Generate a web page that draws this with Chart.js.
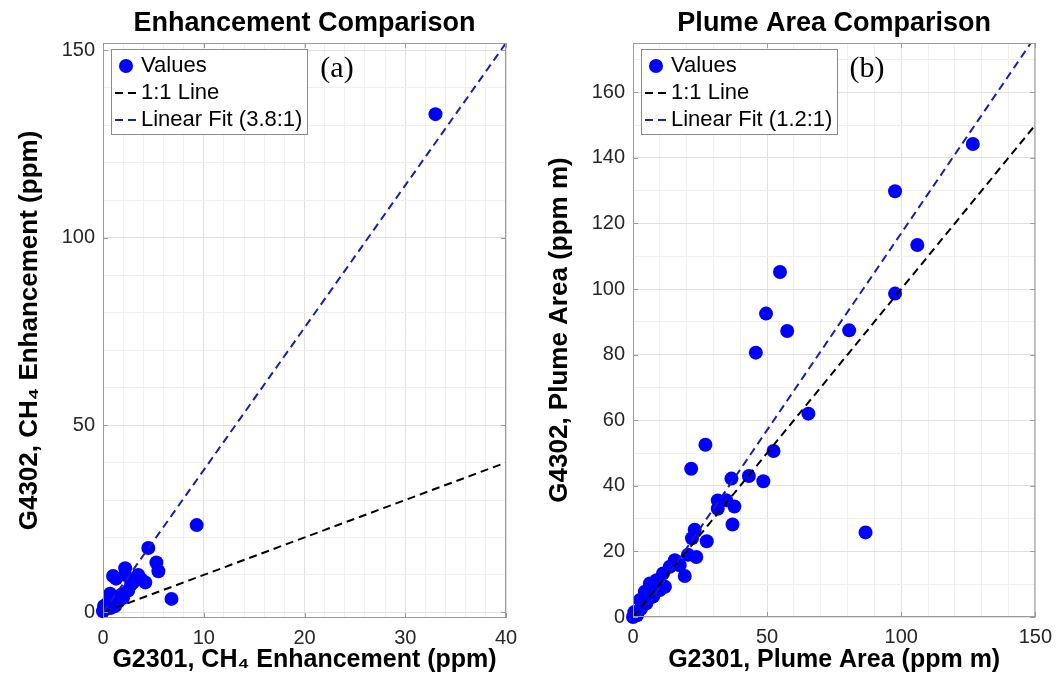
<!DOCTYPE html>
<html>
<head>
<meta charset="utf-8">
<script src="https://cdn.jsdelivr.net/npm/chart.js@4.4.1/dist/chart.umd.min.js"></script>
<style>
  html, body { margin: 0; padding: 0; background: #fff; overflow: hidden; }
  #wrap { position: relative; width: 1060px; height: 691px; }
  canvas { position: absolute; top: 0; }
  #chart-enh { left: 0; }
  #chart-area { left: 530px; }
</style>
</head>
<body>
<div id="wrap">
  <canvas id="chart-enh" width="530" height="691"></canvas>
  <canvas id="chart-area" width="530" height="691"></canvas>
</div>
<script>
// (a) CH4 enhancement, G2301 vs G4302 (ppm)
const enhX = [0.0, 0.2, 0.1, 0.5, 0.8, 1.2, 0.7, 0.9, 1.5, 2.0, 1.85, 2.5, 1.0, 1.3, 2.2, 2.2, 2.8, 3.0, 3.5, 3.8, 4.2, 4.5, 5.3, 5.5, 6.8, 9.3, 33.0];
const enhY = [0.3, 0.8, 1.7, 2.6, 1.2, 1.7, 5.0, 3.5, 2.8, 3.9, 4.8, 5.8, 9.7, 9.0, 11.8, 10.0, 7.5, 8.0, 10.0, 8.8, 8.0, 17.2, 13.3, 11.0, 3.6, 23.3, 133.0];
const enhOneToOne = [[0, 0], [40, 40]];
const enhFit = [[0, 0], [40, 152]];

// (b) plume area, G2301 vs G4302 (ppm m)
const areaX = [0, 0.5, 1.5, 2.6, 3, 4.4, 5, 6.3, 7.5, 8.8, 10, 11.2, 11.9, 13.7, 15.6, 17.4, 19.3, 20.5, 23.6, 22, 23, 27.5, 21.7, 27, 31.6, 31.6, 34.7, 37.8, 37.1, 36.7, 43.2, 48.6, 52.4, 45.8, 49.6, 54.8, 57.5, 65.4, 80.6, 86.7, 97.7, 97.7, 106, 126.7];
const areaY = [0, 1.5, 0.5, 5.2, 2.5, 7.7, 4.2, 10.2, 6.2, 11.2, 8.2, 13.3, 9.2, 15.3, 17.3, 15.8, 12.5, 19, 18.3, 24, 26.6, 23.1, 45.2, 52.5, 33, 35.5, 35.6, 33.7, 28.2, 42.2, 43, 41.4, 50.6, 80.6, 92.5, 105.2, 87.2, 62, 87.4, 25.8, 98.6, 129.8, 113.4, 144.2];
const areaOneToOne = [[0, 0], [150, 150]];
const areaFit = [[0, -3], [150, 177]];

const enhXTicks = [0, 10, 20, 30, 40];
const enhYTicks = [0, 50, 100, 150];
const areaXTicks = [0, 50, 100, 150];
const areaYTicks = [0, 20, 40, 60, 80, 100, 120, 140, 160];

const legendEnh = ['Values', '1:1 Line', 'Linear Fit (3.8:1)'];
const legendArea = ['Values', '1:1 Line', 'Linear Fit (1.2:1)'];

const FONT = "'Liberation Sans', Arial, Helvetica, sans-serif";
const SERIF = "'Liberation Serif', 'Times New Roman', serif";
const BLUE = '#0000ff';
const FIT_BLUE = '#1c1cb0';

function steps(min, max, step) {
  const out = [];
  for (let v = min; v <= max + 1e-9; v += step) out.push(Math.round(v * 100) / 100);
  return out;
}

const toPts = (xs, ys) => xs.map((x, i) => ({ x, y: ys[i] }));
const pairPts = (pairs) => pairs.map(([x, y]) => ({ x, y }));

// frame, inward ticks, legend box, title and panel tag
const framePlugin = {
  id: 'frame',
  afterDraw(chart, args, o) {
    const { ctx, chartArea: a, scales } = chart;
    ctx.save();
    ctx.strokeStyle = '#9a9a9a';
    ctx.lineWidth = 1;
    ctx.strokeRect(a.left + 0.5, a.top + 0.5, a.width - 1, a.height - 1);
    ctx.beginPath();
    o.xMajor.forEach((v) => {
      const x = Math.round(scales.x.getPixelForValue(v)) + 0.5;
      ctx.moveTo(x, a.bottom); ctx.lineTo(x, a.bottom - 5);
      ctx.moveTo(x, a.top); ctx.lineTo(x, a.top + 5);
    });
    o.yMajor.forEach((v) => {
      const y = Math.round(scales.y.getPixelForValue(v)) + 0.5;
      ctx.moveTo(a.left, y); ctx.lineTo(a.left + 5, y);
      ctx.moveTo(a.right, y); ctx.lineTo(a.right - 5, y);
    });
    ctx.stroke();

    // title
    ctx.fillStyle = '#000';
    ctx.font = `bold 27px ${FONT}`;
    ctx.textAlign = 'center';
    ctx.textBaseline = 'middle';
    ctx.fillText(o.title, (a.left + a.right) / 2, 24);

    // legend
    const L = a.left + 8, T = a.top + 6, W = 196, H = 85;
    ctx.fillStyle = '#fff';
    ctx.fillRect(L, T, W, H);
    ctx.strokeStyle = '#8a8a8a';
    ctx.strokeRect(L + 0.5, T + 0.5, W, H);
    const rows = [T + 17, T + 44, T + 71];
    ctx.fillStyle = BLUE;
    ctx.beginPath();
    ctx.arc(L + 15, rows[0], 7, 0, Math.PI * 2);
    ctx.fill();
    ctx.lineWidth = 2;
    ctx.setLineDash([8, 5]);
    [['#000', rows[1]], [FIT_BLUE, rows[2]]].forEach(([c, y]) => {
      ctx.strokeStyle = c;
      ctx.beginPath();
      ctx.moveTo(L + 4, y); ctx.lineTo(L + 26, y);
      ctx.stroke();
    });
    ctx.setLineDash([]);
    ctx.fillStyle = '#000';
    ctx.font = `22px ${FONT}`;
    ctx.textAlign = 'left';
    o.legend.forEach((t, i) => ctx.fillText(t, L + 30, rows[i]));

    // panel tag
    ctx.font = `30px ${SERIF}`;
    ctx.textAlign = 'center';
    ctx.fillText(o.tag, a.left + 234, 69);
    ctx.restore();
  },
};

function makeChart(el, o) {
  const xAll = steps(o.xRange[0] < 0 ? 0 : o.xRange[0], o.xRange[1], o.xMinor);
  const yAll = steps(0, o.yRange[1], o.yMinor);
  const gridColor = (major) => (c) => (c.tick && major.includes(c.tick.value) ? '#e0e0e0' : '#f0f0f0');
  return new Chart(el, {
    type: 'scatter',
    data: {
      datasets: [
        { data: o.points, backgroundColor: BLUE, borderColor: BLUE, pointRadius: 7, pointBorderWidth: 0, pointHoverRadius: 7, clip: false, order: 3 },
        { data: o.oneToOne, showLine: true, borderColor: '#000', borderWidth: 2, borderDash: [8, 5], pointRadius: 0, order: 2 },
        { data: o.fit, showLine: true, borderColor: FIT_BLUE, borderWidth: 2, borderDash: [8, 5], pointRadius: 0, order: 1 },
      ],
    },
    options: {
      responsive: false,
      animation: false,
      devicePixelRatio: 1,
      layout: { padding: { top: 43, right: o.padRight, bottom: 0, left: 0 } },
      plugins: {
        legend: { display: false },
        tooltip: { enabled: false },
        title: { display: false },
        frame: { title: o.title, legend: o.legend, tag: o.tag, xMajor: o.xMajor, yMajor: o.yMajor },
      },
      scales: {
        x: {
          type: 'linear',
          min: o.xRange[0],
          max: o.xRange[1],
          afterBuildTicks: (axis) => { axis.ticks = xAll.map((v) => ({ value: v })); },
          afterFit: (scale) => { scale.height = o.xHeight; },
          border: { display: false },
          grid: { color: gridColor(o.xMajor), drawTicks: false },
          ticks: {
            autoSkip: false, maxRotation: 0, padding: 8, color: '#262626',
            font: { family: FONT, size: 20 },
            callback: (v) => (o.xMajor.includes(v) ? String(v) : ''),
          },
          title: { display: true, text: o.xTitle, color: '#000', font: { family: FONT, size: 25, weight: 'bold' }, padding: { top: 0, bottom: 16 } },
        },
        y: {
          type: 'linear',
          min: o.yRange[0],
          max: o.yRange[1],
          afterBuildTicks: (axis) => { axis.ticks = yAll.map((v) => ({ value: v })); },
          afterFit: (scale) => { scale.width = 103; },
          border: { display: false },
          grid: { color: gridColor(o.yMajor), drawTicks: false },
          ticks: {
            autoSkip: false, padding: 8, color: '#262626',
            font: { family: FONT, size: 20 },
            callback: (v) => (o.yMajor.includes(v) ? String(v) : ''),
          },
          title: { display: true, text: o.yTitle, color: '#000', font: { family: FONT, size: 26, weight: 'bold' }, padding: { top: 14, bottom: 0 } },
        },
      },
    },
    plugins: [framePlugin],
  });
}

makeChart(document.getElementById('chart-enh'), {
  title: 'Enhancement Comparison',
  xTitle: 'G2301, CH\u2084 Enhancement (ppm)',
  yTitle: 'G4302, CH\u2084 Enhancement (ppm)',
  points: toPts(enhX, enhY),
  oneToOne: pairPts(enhOneToOne),
  fit: pairPts(enhFit),
  xRange: [0, 40], yRange: [-1.5, 152],
  xMajor: enhXTicks, yMajor: enhYTicks,
  xMinor: 2, yMinor: 10,
  legend: legendEnh, tag: '(a)',
  xHeight: 73, padRight: 24,
});

makeChart(document.getElementById('chart-area'), {
  title: 'Plume Area Comparison',
  xTitle: 'G2301, Plume Area (ppm m)',
  yTitle: 'G4302, Plume Area (ppm m)',
  points: toPts(areaX, areaY),
  oneToOne: pairPts(areaOneToOne),
  fit: pairPts(areaFit),
  xRange: [0, 150], yRange: [0, 175],
  xMajor: areaXTicks, yMajor: areaYTicks,
  xMinor: 10, yMinor: 10,
  legend: legendArea, tag: '(b)',
  xHeight: 74, padRight: 23,
});
</script>
</body>
</html>
